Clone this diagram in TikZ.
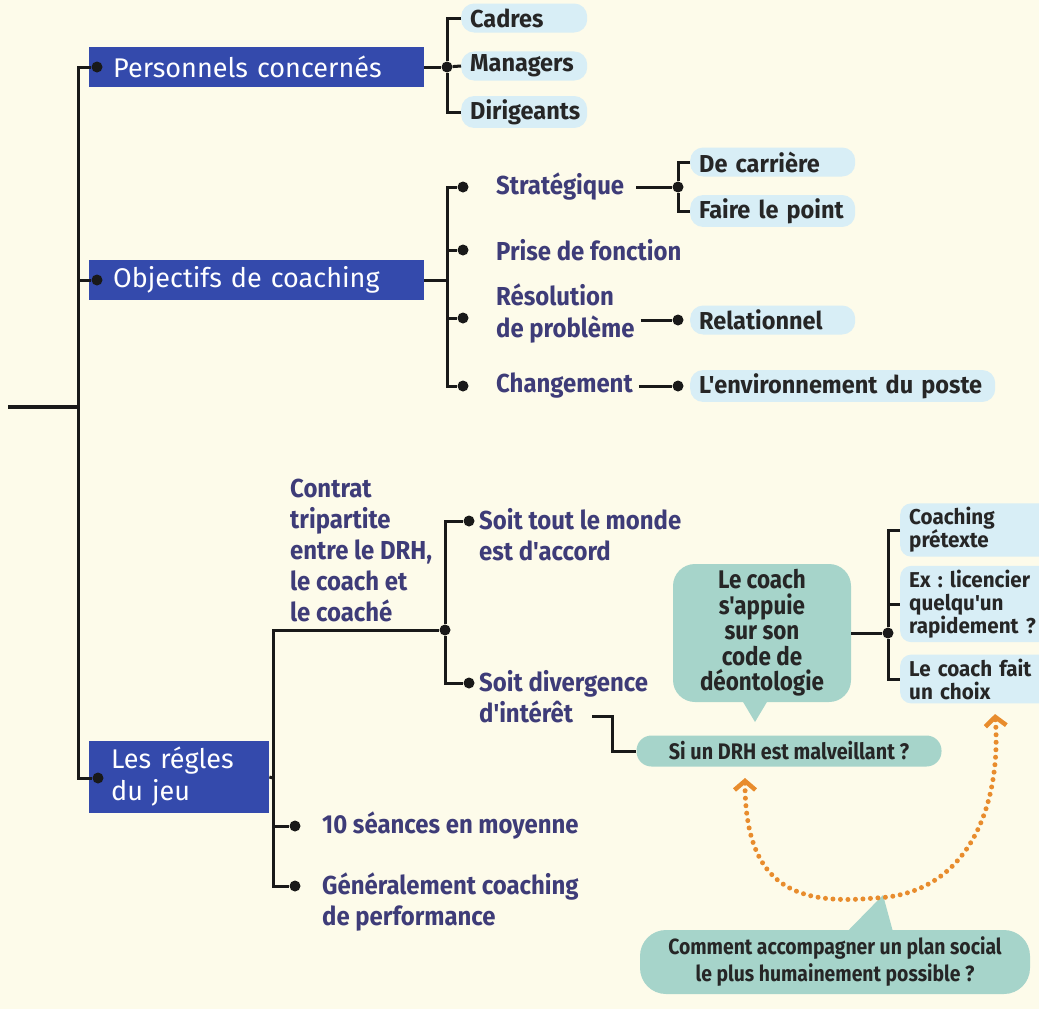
\documentclass[tikz,border=0pt]{standalone}
\usepackage{fontspec}
\setmainfont{Fira Sans}
\newfontfamily\narrowfont[FakeStretch=0.92]{Fira Sans}
\newfontfamily\bubblefont[FakeStretch=0.88]{Fira Sans}
\newfontfamily\pillfont[FakeStretch=0.96]{Fira Sans}
\usepackage{xcolor}
\usetikzlibrary{arrows.meta,positioning,calc}
\definecolor{cchbg}{RGB}{253,251,234}
\definecolor{cchblue}{RGB}{52,74,172}
\definecolor{cchpurple}{RGB}{62,60,120}
\definecolor{cchpill}{RGB}{216,238,246}
\definecolor{cchteal}{RGB}{166,212,202}
\definecolor{cchorange}{RGB}{232,140,45}
\definecolor{cchline}{RGB}{25,25,25}
\frenchspacing

\begin{document}
\begin{tikzpicture}[x=1pt, y=-1pt,
    topic/.style={fill=cchblue, text=white, anchor=west, inner xsep=24pt, inner ysep=0pt,
                  minimum height=40pt, align=left, font=\fontsize{27}{32}\selectfont},
    dot/.style={circle, fill=cchline, inner sep=0pt, minimum size=11pt},
    lnk/.style={draw=cchline, line width=3pt},
    lbl/.style={text=cchpurple, inner sep=0pt, align=left,
                font=\narrowfont\bfseries\fontsize{26}{31}\selectfont},
    pill/.style={fill=cchpill, rounded corners=13pt, anchor=west, inner xsep=9pt,
                 minimum height=29pt, align=left, text=black!85,
                 font=\pillfont\bfseries\fontsize{24.5}{27}\selectfont},
    sidepill/.style={pill, rounded corners=11pt, text width=140pt, inner ysep=4pt,
                     font=\pillfont\bfseries\fontsize{21.5}{23}\selectfont},
    bubble/.style={fill=cchteal, rounded corners=22pt, align=center, text=black!85,
                   font=\bubblefont\bfseries\fontsize{22}{26}\selectfont}
]
    % fond
    \fill[cchbg] (0,0) rectangle (1039,1009);
    \useasboundingbox (0,0) rectangle (1039,1009);
    \clip (0,0) rectangle (1039,1009);

    % Tronc
    \coordinate (root) at (8,407);
    \coordinate (trunk) at (78,407);

    % Personnels concernes
    \node[topic, text width=287pt] (pers) at (89,67) {Personnels concernés};
    \node[dot] (d-pers) at (97,67) {};
    \node[dot] (j-pers) at (447,67) {};
    \node[pill, text width=108pt] (cadres) at (461,18) {Cadres};
    \node[pill, text width=108pt] (managers) at (461,66) {Managers};
    \node[pill, text width=108pt] (dirig) at (461,112) {Dirigeants};

    % Objectifs de coaching
    \node[topic, text width=287pt] (obj) at (89,280) {Objectifs de coaching};
    \node[dot] (d-obj) at (97,280) {};
    \coordinate (j-obj) at (447,280);
    \node[dot] (d-strat) at (463,187) {};
    \node[dot] (d-prise) at (463,250) {};
    \node[dot] (d-resol) at (463,318) {};
    \node[dot] (d-chang) at (463,386) {};
    \node[lbl, anchor=west] (strat) at (496,187) {Stratégique};
    \node[lbl, anchor=west] (prise) at (496,250) {Prise de fonction};
    \node[lbl, anchor=west, font=\narrowfont\bfseries\fontsize{26}{32}\selectfont] (resol) at (496,314) {Résolution\\de problème};
    \node[lbl, anchor=west] (chang) at (496,386) {Changement};

    \node[dot] (j-strat) at (678,187) {};
    \node[pill, text width=147pt] (carriere) at (690,162) {De carrière};
    \node[pill, text width=147pt] (point) at (690,211) {Faire le point};
    \node[dot] (d-rel) at (678,320) {};
    \node[pill, text width=147pt] (relation) at (690,320) {Relationnel};
    \node[dot] (d-env) at (678,386) {};
    \node[pill, text width=287pt] (env) at (690,386) {L'environnement du poste};

    % Les regles du jeu
    \node[topic, text width=136pt, inner xsep=22pt, minimum height=72pt] (regles) at (89,777) {Les régles\\du jeu};
    \node[dot] (d-regles) at (98,778) {};
    \coordinate (j-regles) at (273,778);
    \node[dot] (j-contrat) at (445,630) {};
    \node[lbl, anchor=south west] (contrat) at (290,622) {Contrat\\tripartite\\entre le DRH,\\le coach et\\le coaché};
    \node[dot] (d-soit1) at (469,521) {};
    \node[lbl, anchor=north west] (soit1) at (479,508) {Soit tout le monde\\est d'accord};
    \node[dot] (d-soit2) at (469,683) {};
    \node[lbl, anchor=north west] (soit2) at (479,670) {Soit divergence\\d'intérêt};
    \node[dot] (d-seances) at (295,826) {};
    \node[lbl, anchor=west] (seances) at (322,826) {10 séances en moyenne};
    \node[dot] (d-gen) at (295,886) {};
    \node[lbl, anchor=north west] (gen) at (322,873) {Généralement coaching\\de performance};

    % Bulles
    \coordinate (c-int) at (592,716);
    \coordinate (k-int) at (612,716);
    \node[bubble, rounded corners=15pt, minimum width=305pt, minimum height=31pt,
          font=\bubblefont\bfseries\fontsize{22.5}{26}\selectfont] (sidrh) at (789,751) {Si un DRH est malveillant ?};
    \node[bubble, minimum width=178pt, minimum height=138pt,
          font=\bubblefont\bfseries\fontsize{25.5}{25.5}\selectfont] (coach) at (762,633)
        {Le coach\\s'appuie\\sur son\\code de\\déontologie};
    \coordinate (coach-tip) at (755,722);
    \fill[cchteal] ($(coach.south)+(-20,-2)$) -- (coach-tip) -- ($(coach.south)+(6,-2)$) -- cycle;

    \node[dot] (j-coach) at (888,633) {};
    \node[sidepill] (pretexte) at (900,530) {Coaching\\prétexte};
    \node[sidepill] (licencier) at (900,604) {Ex : licencier\\quelqu'un\\rapidement ?};
    \node[sidepill] (choix) at (900,679) {Le coach fait\\un choix};

    \node[bubble, rounded corners=26pt, minimum width=390pt, minimum height=64pt,
          font=\bubblefont\bfseries\fontsize{22}{27}\selectfont] (plan) at (835,962)
        {Comment accompagner un plan social\\le plus humainement possible ?};
    \coordinate (plan-tip) at (883,895);
    \fill[cchteal] ($(plan.north)+(12,2)$) -- (plan-tip) -- ($(plan.north)+(58,2)$) -- cycle;

    % Liens
    \draw[lnk, line width=4.5pt] (root) -- (trunk);
    \draw[lnk] (d-pers) -| (trunk) |- (d-regles);
    \draw[lnk] (d-obj) -| (trunk);

    \draw[lnk] (pers.east) -- (j-pers);
    \draw[lnk] (cadres.west) -| (j-pers) |- (dirig.west);
    \draw[lnk] (j-pers) -- (managers.west);

    \draw[lnk] (obj.east) -- (j-obj);
    \draw[lnk] (d-strat) -| (j-obj) |- (d-chang);
    \draw[lnk] (d-prise) -| (j-obj);
    \draw[lnk] (d-resol) -| (j-obj);
    \draw[lnk, shorten <=12pt] (strat) -- (j-strat);
    \draw[lnk] (carriere.west) -| (j-strat) |- (point.west);
    \draw[lnk, shorten <=6pt] (resol.east |- d-rel) -- (d-rel);
    \draw[lnk, shorten <=6pt] (chang) -- (d-env);

    \draw[lnk] (regles.east) -- (j-regles);
    \draw[lnk] (j-contrat) -| (j-regles) |- (d-gen);
    \draw[lnk] (j-regles) |- (d-seances);
    \draw[lnk] (d-soit1) -| (j-contrat) |- (d-soit2);
    \draw[lnk] (c-int) -- (k-int) |- (sidrh.west);

    \draw[lnk] (coach.east) -- (j-coach);
    \draw[lnk] (pretexte.west) -| (j-coach) |- (choix.west);
    \draw[lnk] (j-coach) |- (licencier.west);

    % Fleche orange
    \coordinate (arc-l) at (745,778);
    \coordinate (arc-m) at (875,898);
    \coordinate (arc-r) at (995,714);
    \draw[cchorange, line width=5pt, line cap=round, dash pattern=on 0pt off 7.5pt,
          {Straight Barb[length=9pt,width=21pt,line width=4.5pt]}-{Straight Barb[length=9pt,width=21pt,line width=4.5pt]}]
        (arc-l) .. controls (745,890) and (800,905) .. (arc-m)
                .. controls (965,895) and (1002,810) .. (arc-r);
\end{tikzpicture}
\end{document}
